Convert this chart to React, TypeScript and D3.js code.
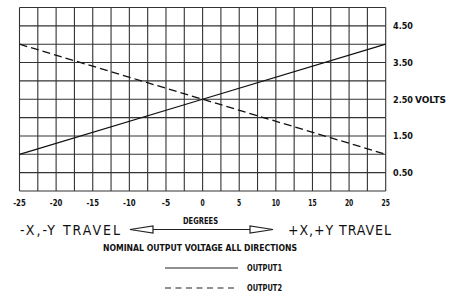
import React, { useRef, useEffect } from "react";
import * as d3 from "d3";

// readings
const degrees = [-25, 0, 25];
const output1 = [1.0, 2.5, 4.0];
const output2 = [4.0, 2.5, 1.0];
const xTickValues = [-25, -20, -15, -10, -5, 0, 5, 10, 15, 20, 25];
const yTickValues = [4.5, 3.5, 2.5, 1.5, 0.5];
const yTickLabels = ["4.50", "3.50", "2.50", "1.50", "0.50"];

const W = 450;
const H = 298;
const PLOT = { left: 19.5, right: 385.7, top: 7.5, bottom: 191 };
const FONT = "'DejaVu Sans Condensed', 'Liberation Sans Narrow', sans-serif";

const App = () => {
  const svgRef = useRef<SVGSVGElement | null>(null);

  useEffect(() => {
    const svg = d3.select(svgRef.current);
    svg.selectAll("*").remove();

    const x = d3.scaleLinear().domain([-25, 25]).range([PLOT.left, PLOT.right]);
    const y = d3.scaleLinear().domain([0, 5]).range([PLOT.bottom, PLOT.top]);

    const small = (sel: any, size: number, len: number) =>
      sel.attr("font-family", FONT).attr("font-weight", "bold").attr("font-size", size)
        .attr("textLength", len).attr("lengthAdjust", "spacingAndGlyphs")
        .attr("fill", "#111");

    const grid = svg.append("g");
    grid.selectAll("line.v")
      .data(d3.range(-25, 25.01, 2.5))
      .enter().append("line")
      .attr("x1", d => x(d)).attr("x2", d => x(d))
      .attr("y1", y(0)).attr("y2", y(5))
      .attr("stroke", "#333").attr("stroke-width", 1.1);
    grid.selectAll("line.h")
      .data(d3.range(0, 5.01, 0.5))
      .enter().append("line")
      .attr("x1", x(-25)).attr("x2", x(25))
      .attr("y1", d => y(d)).attr("y2", d => y(d))
      .attr("stroke", "#333").attr("stroke-width", 1.1);

    const line = d3.line<number>().x((d, i) => x(degrees[i])).y(d => y(d));
    svg.append("path").attr("d", line(output1)!)
      .attr("fill", "none").attr("stroke", "#111").attr("stroke-width", 1.3);
    svg.append("path").attr("d", line(output2)!)
      .attr("fill", "none").attr("stroke", "#111").attr("stroke-width", 1.3)
      .attr("stroke-dasharray", "8,4");

    // x tick labels
    svg.append("g").selectAll("text")
      .data(xTickValues)
      .enter().append("text")
      .attr("x", d => x(d)).attr("y", 206)
      .attr("text-anchor", "middle")
      .each(function (d) {
        const t = d < 0 ? "-" + Math.abs(d) : String(d);
        small(d3.select(this), 8.5, t.length * 4.2).text(t);
      });

    // y tick labels (right)
    svg.append("g").selectAll("text")
      .data(yTickValues)
      .enter().append("text")
      .attr("x", 393).attr("y", d => y(d) + 3.5)
      .each(function (d, i) {
        small(d3.select(this), 8.5, 20).text(yTickLabels[i]);
      });
    small(svg.append("text").attr("x", 415).attr("y", y(2.5) + 3.5), 8.5, 31).text("VOLTS");

    // travel captions and arrow
    svg.append("text")
      .attr("x", 20).attr("y", 235)
      .attr("font-family", FONT).attr("font-size", 14)
      .attr("textLength", 100).attr("lengthAdjust", "spacing")
      .attr("fill", "#111")
      .text("-X,-Y TRAVEL");
    svg.append("text")
      .attr("x", 288).attr("y", 235)
      .attr("font-family", FONT).attr("font-size", 14)
      .attr("textLength", 103).attr("lengthAdjust", "spacing")
      .attr("fill", "#111")
      .text("+X,+Y TRAVEL");
    small(svg.append("text").attr("x", 183).attr("y", 224), 8, 35).text("DEGREES");

    const ay = 229.5;
    svg.append("line")
      .attr("x1", 153).attr("x2", 250).attr("y1", ay).attr("y2", ay)
      .attr("stroke", "#222").attr("stroke-width", 1.2);
    svg.append("path")
      .attr("d", `M130,${ay} L153,${ay - 3.5} L153,${ay + 3.5} Z`)
      .attr("fill", "none").attr("stroke", "#222").attr("stroke-width", 1.2);
    svg.append("path")
      .attr("d", `M273,${ay} L250,${ay - 3.5} L250,${ay + 3.5} Z`)
      .attr("fill", "none").attr("stroke", "#222").attr("stroke-width", 1.2);

    small(svg.append("text").attr("x", 103).attr("y", 251), 8, 194)
      .text("NOMINAL OUTPUT VOLTAGE ALL DIRECTIONS");

    // legend
    const legend = [
      { name: "OUTPUT1", dash: null, yy: 268 },
      { name: "OUTPUT2", dash: "6,4.5", yy: 288 },
    ];
    const lg = svg.append("g");
    legend.forEach(l => {
      lg.append("line")
        .attr("x1", 165).attr("x2", 238).attr("y1", l.yy).attr("y2", l.yy)
        .attr("stroke", "#222").attr("stroke-width", 1.2)
        .attr("stroke-dasharray", l.dash);
      small(lg.append("text").attr("x", 247).attr("y", l.yy + 3), 8, 35).text(l.name);
    });
  }, []);

  return (
    <svg ref={svgRef} width={W} height={H}
      style={{ position: "absolute", left: 0, top: 0, background: "#fff" }} />
  );
};

export default App;
